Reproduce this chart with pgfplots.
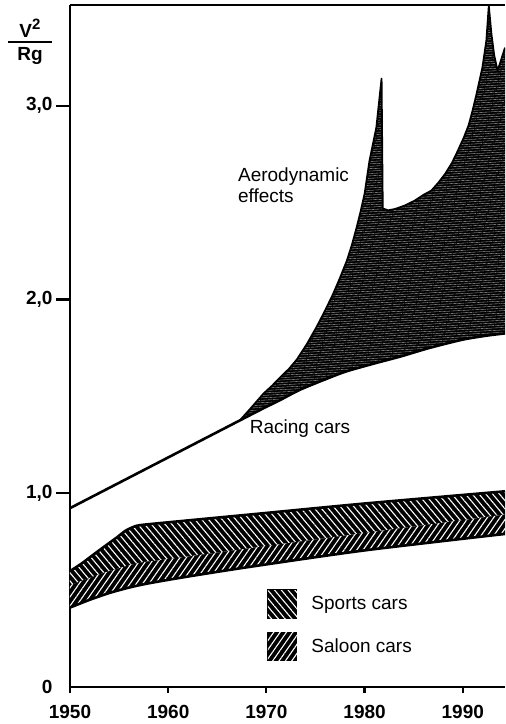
\documentclass[border=0pt]{standalone}
\usepackage{fontspec}
\setmainfont{Liberation Sans}
\usepackage{pgfplots}
\usepackage{pgfplotstable}
\pgfplotsset{compat=1.18}
\usepgfplotslibrary{fillbetween}
\usetikzlibrary{patterns.meta}

\newcommand\lbl{\fontsize{19}{21}\selectfont}

% square legend swatch carrying the plot's own fill and hatching
\pgfplotsset{boxlegend/.style={legend image code/.code={%
  \path[##1, draw=black, line width=1.4pt] (0pt,-14pt) rectangle (29pt,14pt);}},
  soft/.style={smooth, tension=0.45}}

% Racing cars: straight trend up to the late sixties, then the lower edge of the aerodynamic band
\pgfplotstableread{
year v
1950    0.923
1967.3  1.376
1970.0  1.446
1971.4  1.481
1973.5  1.536
1976.5  1.598
1978.2  1.630
1981.0  1.670
1983.6  1.705
1986.6  1.750
1990.0  1.793
1992.5  1.814
1994.3  1.825
}\racingLow

% Upper edge reached with aerodynamic effects
\pgfplotstableread{
year v
1967.3  1.376
1968.5  1.444
1969.7  1.514
1970.6  1.556
1971.4  1.598
1972.3  1.642
1973.1  1.690
1974.1  1.768
1975.1  1.857
1976.0  1.945
1976.8  2.029
1977.5  2.112
1978.2  2.201
1978.7  2.280
1979.2  2.373
1979.6  2.455
1980.0  2.545
1980.5  2.716
1981.2  2.888
1981.73 3.140
1981.85 2.470
1982.4  2.460
1983.1  2.467
1984.1  2.485
1985.1  2.510
1986.0  2.540
1986.8  2.562
1987.5  2.602
1988.2  2.648
1988.9  2.705
1989.5  2.768
1990.1  2.835
1990.6  2.900
1991.0  2.975
1991.4  3.060
1992.0  3.197
1992.4  3.335
1992.65 3.515
1992.92 3.369
1993.2  3.260
1993.55 3.180
1994.3  3.300
}\aeroHigh

% Sports cars, upper edge
\pgfplotstableread{
year v
1950   0.598
1951.2 0.638
1952.3 0.680
1953.5 0.725
1954.8 0.773
1955.6 0.805
1956.3 0.823
1957.1 0.835
1960.0 0.850
1969.3 0.895
1980.0 0.947
1994.3 1.010
}\sportsTop

% Boundary between sports and saloon cars
\pgfplotstableread{
year v
1950   0.525
1953.5 0.590
1957.0 0.640
1960.0 0.660
1968.3 0.716
1980.0 0.795
1994.3 0.890
}\bandMid

% Saloon cars, lower edge
\pgfplotstableread{
year v
1950   0.410
1952.0 0.450
1954.0 0.485
1956.0 0.513
1958.0 0.535
1962.0 0.570
1968.3 0.620
1980.0 0.705
1994.3 0.790
}\saloonBot

\begin{document}
\begin{tikzpicture}
\begin{axis}[
  name=ax,
  width=435pt, height=682pt, scale only axis,
  xmin=1950, xmax=1994.3, ymin=0, ymax=3.52,
  axis x line*=bottom, axis y line*=left,
  axis line style={line width=2.4pt},
  clip mode=individual,
  tick align=outside,
  major tick length=6pt,
  tick style={line width=2.2pt, black},
  xtick={1950,1960,1970,1980,1990},
  xticklabels={1950,1960,1970,1980,1990},
  ytick={0},
  yticklabels={0},
  ytick style={draw=none},
  yticklabel style={xshift=-8pt},
  extra y ticks={1,2,3},
  extra y tick labels={{1,0},{2,0},{3,0}},
  extra y tick style={major tick length=14pt, ytick style={draw=black},
    yticklabel style={xshift=8pt}},
  tick label style={font=\bfseries\lbl},
  xticklabel style={inner sep=1pt, yshift=-11pt},
  legend cell align=left,
  legend style={at={(axis cs:1970.05,0.505)}, anchor=north west,
    draw=none, fill=none, inner sep=0pt, row sep=13pt, font=\lbl,
    /tikz/every odd column/.append style={column sep=12pt}},
]

% helper paths
\addplot[name path=aeroU, draw=none, forget plot] table[x=year,y=v] {\aeroHigh};
\addplot[name path=aeroL, draw=none, forget plot, soft] table[x=year,y=v] {\racingLow};
\addplot[name path=spT, draw=none, forget plot, soft] table[x=year,y=v] {\sportsTop};
\addplot[name path=mid, draw=none, forget plot, soft] table[x=year,y=v] {\bandMid};
\addplot[name path=slB, draw=none, forget plot, soft] table[x=year,y=v] {\saloonBot};

% aerodynamic band
\addplot[fill=black, draw=none, forget plot,
  postaction={pattern={Lines[angle=3,distance=2.4pt,line width=0.34pt]}, pattern color=white!72!black}]
  fill between[of=aeroU and aeroL, soft clip={domain=1967.3:1994.3}];

% sports and saloon bands
\addplot[fill=black, draw=none, boxlegend,
  postaction={pattern={Lines[angle=-50,distance=5.2pt,line width=1.1pt]}, pattern color=white}]
  fill between[of=spT and mid];
\addlegendentry{Sports cars}
\addplot[fill=black, draw=none, boxlegend,
  postaction={pattern={Lines[angle=55,distance=5.2pt,line width=1.1pt]}, pattern color=white}]
  fill between[of=mid and slB];
\addlegendentry{Saloon cars}

% outlines
\addplot[black, line width=2.6pt, line join=round, forget plot, soft] table[x=year,y=v] {\racingLow};
\addplot[black, line width=1.8pt, line join=round, forget plot] table[x=year,y=v] {\aeroHigh};
\addplot[black, line width=2.6pt, line join=round, forget plot, soft] table[x=year,y=v] {\sportsTop};
\addplot[black, line width=2.6pt, line join=round, forget plot, soft] table[x=year,y=v] {\saloonBot};

% top frame line
\draw[line width=2.4pt] (rel axis cs:0,1) -- (rel axis cs:1,1);

% annotations
\node[anchor=west, align=left, inner sep=0pt, font=\lbl] at (axis cs:1967.1,2.59) {Aerodynamic\\effects};
\node[anchor=west, inner sep=0pt, font=\lbl] at (axis cs:1968.3,1.335) {Racing cars};

% quantity on the vertical axis
\coordinate (bar) at (rel axis cs:-0.092,0.9457);
\draw[line width=2.2pt] ([xshift=-22pt]bar) -- ([xshift=22pt]bar);
\node[anchor=south, inner sep=0pt, font=\bfseries\lbl] at ([yshift=4pt]bar)
  {V\raisebox{8pt}{\fontsize{15}{15}\selectfont\bfseries 2}};
\node[anchor=north, inner sep=0pt, font=\bfseries\lbl] at ([yshift=-5pt]bar) {Rg};

\coordinate (bbLL) at (rel axis cs:0,0);
\coordinate (bbUR) at (rel axis cs:1,1);
\end{axis}
\pgfresetboundingbox
\path[use as bounding box] ([xshift=-70pt,yshift=-37pt]bbLL) rectangle ([yshift=5pt]bbUR);
\end{tikzpicture}
\end{document}
